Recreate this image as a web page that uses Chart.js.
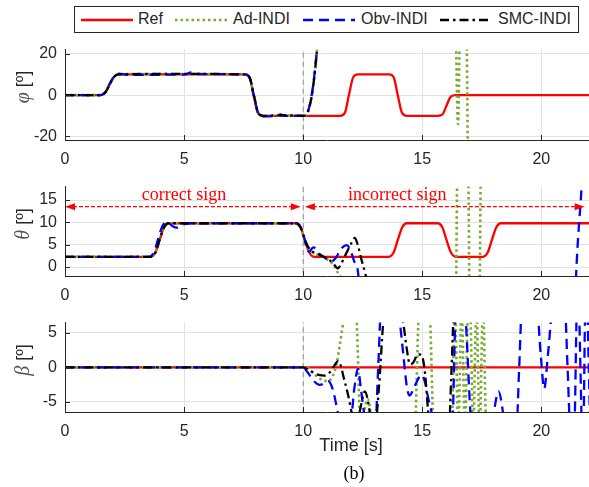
<!DOCTYPE html>
<html lang="en">
<head>
<meta charset="UTF-8">
<title>Attitude tracking (b)</title>
<script src="https://cdn.jsdelivr.net/npm/chart.js"></script>
<style>
  body { margin: 0; background: #fff; }
  #fig { position: relative; width: 589px; height: 487px; overflow: hidden;
         font-family: "Liberation Sans", Arial, sans-serif; color: #262626; }
  canvas { position: absolute; left: 0; }
  .legend { position: absolute; left: 74px; top: 6px; width: 503px; height: 25px;
            border: 1px solid #262626; background: #fff; z-index: 5; }
  .legend svg, .legend span { position: absolute; }
  .legend svg { top: 8px; }
  .legend span { top: 2px; font-size: 16px; line-height: 20px; white-space: nowrap; }
  .ylab { position: absolute; transform: translate(-50%, -50%) rotate(-90deg);
          white-space: nowrap; font-size: 18px; }
  .ylab i { font-family: "Liberation Serif", serif; font-size: 20px; color: #555; }
  .xlab { position: absolute; left: 351px; top: 445px; transform: translate(-50%, -50%);
          font-size: 18px; white-space: nowrap; }
  .cap { position: absolute; left: 354px; top: 473px; transform: translate(-50%, -50%);
         font-family: "Liberation Serif", serif; font-size: 18px; color: #000; }
</style>
</head>
<body>
<div id="fig">
  <canvas id="phiChart" width="589" height="142" style="top:32px"></canvas>
  <canvas id="thetaChart" width="589" height="141" style="top:169px"></canvas>
  <canvas id="betaChart" width="589" height="141" style="top:305px"></canvas>

  <div class="legend">
    <svg width="52" height="10" style="left:6px"><line x1="0" y1="5" x2="52" y2="5" stroke="#ff0000" stroke-width="2.3"/></svg>
    <span style="left:63px">Ref</span>
    <svg width="52" height="10" style="left:100px"><line x1="0" y1="5" x2="52" y2="5" stroke="#77ac30" stroke-width="2.6" stroke-dasharray="2.5 3"/></svg>
    <span style="left:158px">Ad-INDI</span>
    <svg width="52" height="10" style="left:228px"><line x1="0" y1="5" x2="52" y2="5" stroke="#0000ff" stroke-width="2.3" stroke-dasharray="10 6"/></svg>
    <span style="left:286px">Obv-INDI</span>
    <svg width="52" height="10" style="left:365px"><line x1="0" y1="5" x2="52" y2="5" stroke="#000" stroke-width="2.3" stroke-dasharray="9 4 2.5 4"/></svg>
    <span style="left:423px">SMC-INDI</span>
  </div>

  <div class="ylab" style="left:22px; top:87px"><i>φ</i> [º]</div>
  <div class="ylab" style="left:22px; top:224px"><i>θ</i> [º]</div>
  <div class="ylab" style="left:22px; top:360px"><i>β</i> [º]</div>
  <div class="xlab">Time [s]</div>
  <div class="cap">(b)</div>
</div>

<script>
  // [time s, angle deg]
  const phiRef = [[0,0],[1.5,0],[1.7,1.4],[1.87,5],[2.05,8.6],[2.25,10],[7.55,10],[7.75,8.6],[7.92,0],[8.1,-8.6],[8.3,-10],
    [11.55,-10],[11.75,-8.6],[11.92,0],[12.1,8.6],[12.3,10],[13.6,10],[13.8,8.6],[13.97,0],[14.15,-8.6],[14.35,-10],
    [15.65,-10],[15.85,-9.3],[16.02,-5],[16.2,-0.7],[16.4,0],[22,0]];
  const phiAd = [[0,0],[1.5,0],[1.7,1.5],[1.88,5.2],[2.06,8.8],[2.26,10.1],[5.2,10.2],[7.55,10],[7.75,8.5],[7.93,-0.2],[8.12,-8.7],[8.32,-10],
    [10.05,-10],[10.2,-8],[10.35,-1],[10.48,10],[10.58,22],[10.7,40],[10.9,60],[16.35,60],[16.5,-14],[16.62,60],[16.82,60],[16.96,-60],[22,-60]];
  const phiObv = [[0,0],[1.5,0],[1.7,1.6],[1.88,5.6],[2.06,9.1],[2.28,10.4],[2.6,9.8],[5.05,10],[5.3,11],[5.55,10.2],[7.55,10],[7.75,8.3],[7.93,-0.4],
    [8.12,-8.9],[8.32,-10.3],[8.9,-9.9],[9.05,-9.3],[9.2,-10],[10.05,-10],[10.2,-7.8],[10.35,-0.6],[10.48,10.5],[10.58,22.5],[10.7,40],[10.9,60],[22,60]];
  const phiSmc = [[0,0],[1.5,0],[1.7,1.4],[1.88,5.3],[2.06,8.9],[2.26,10],[5.2,10.3],[7.55,10],[7.75,8.6],[7.93,0],[8.12,-8.8],[8.32,-10.1],[9.1,-9.7],
    [10.05,-10],[10.2,-8],[10.35,-1],[10.48,10],[10.58,22],[10.7,40],[10.9,60],[22,60]];

  const thetaRef = [[0,2.3],[3.6,2.3],[3.8,3.3],[3.97,6],[4.15,8.8],[4.35,9.8],[9.7,9.8],[9.9,8.8],[10.07,6],[10.25,3.3],[10.45,2.3],
    [13.6,2.3],[13.8,3.3],[13.97,6],[14.15,8.8],[14.35,9.8],[15.65,9.8],[15.85,8.8],[16.02,6],[16.2,3.3],[16.4,2.3],
    [17.55,2.3],[17.75,3.3],[17.92,6],[18.1,8.8],[18.3,9.8],[22,9.8]];
  const thetaAd = [[0,2.3],[3.6,2.3],[3.8,3.3],[3.97,6.1],[4.15,8.9],[4.35,9.8],[9.7,9.8],[9.9,8.8],[10.05,6.3],[10.2,4.4],[10.4,3.3],[10.7,2.6],
    [10.95,1.9],[11.15,1.2],[11.3,0.3],[11.47,-1.4],[11.6,-4],[11.75,-30],[16.36,-30],[16.5,30],[16.9,30],[17.04,-30],[17.35,-30],[17.49,30],[22,30]];
  const thetaObv = [[0,2.3],[3.55,2.3],[3.75,3.5],[3.92,6.5],[4.1,9.3],[4.3,10.1],[4.5,9.2],[4.72,8.8],[4.95,9.5],[5.3,9.8],[9.7,9.8],[9.9,8.8],
    [10.05,6.4],[10.15,4.2],[10.25,3.4],[10.42,4.4],[10.55,4.0],[10.68,3.0],[10.85,2.3],[11.05,1.6],[11.2,1.3],[11.35,1.9],[11.5,3.2],[11.65,4.4],
    [11.82,4.9],[11.98,3.9],[12.15,1.2],[12.32,-2],[12.5,-30],[21.3,-30],[21.45,-3],[21.7,19],[21.8,30],[22,30]];
  const thetaSmc = [[0,2.3],[3.6,2.3],[3.8,3.3],[3.97,6],[4.15,8.8],[4.35,9.8],[9.7,9.8],[9.9,8.8],[10.05,6.5],[10.2,4.6],[10.4,3.4],[10.7,2.7],
    [11.0,1.9],[11.25,0.9],[11.45,-0.3],[11.6,0.8],[11.82,3.2],[12.03,5.4],[12.17,6.5],[12.3,4.8],[12.45,1.6],[12.6,-1.4],[12.75,-6],[12.9,-30],[22,-30]];

  const betaRef = [[0,0],[22,0]];
  const betaAd = [[0,0],[10.15,0],[10.35,-0.6],[10.6,-1.4],[10.85,-1.9],[11.05,-2.0],[11.25,-1.2],[11.4,0.5],[11.55,3.5],[11.68,6.5],[11.8,9],
    [12.2,9],[12.42,-9],[12.7,-4.6],[12.98,-9],[14.68,-9],[14.88,9],[15.29,9],[15.49,-9],[16.23,-9],[16.37,9],[16.51,-9],[16.65,9],[16.79,-9],
    [16.93,9],[17.0,9],[17.14,-9],[17.27,9],[17.41,-9],[17.55,9],[17.69,-9],[22,-9]];
  const betaObv = [[0,0],[10,0],[10.2,-0.8],[10.45,-2.0],[10.7,-2.55],[10.9,-2.3],[11.05,-2.0],[11.18,-2.6],[11.3,-4],[11.45,-6.5],[11.6,-9],
    [11.95,-9],[12.15,-3],[12.3,-0.2],[12.42,-3],[12.55,-6.5],[12.7,-9],[13.02,-9],[13.15,0],[13.28,9],[13.95,9],[14.06,6.5],[14.2,2],[14.34,-2.5],
    [14.46,-4.1],[14.6,-3.4],[14.75,-2.2],[14.97,-1.1],[15.1,-2],[15.25,-4.5],[15.39,-6.5],[15.5,-9],[16.25,-9],[16.42,9],[16.75,9],[17.1,-9],
    [17.85,-9],[18.2,-3.5],[18.55,-9],[18.95,-9],[19.07,0],[19.19,9],[19.8,9],[19.97,2],[20.12,-3.1],[20.28,2],[20.5,9],[20.98,9],[21.1,0],
    [21.22,-9],[21.38,-9],[21.5,9],[21.57,9],[21.64,0],[21.71,-9],[21.76,-9],[21.85,9],[21.92,9],[21.99,0],[22.05,-9]];
  const betaSmc = [[0,0],[10,0],[10.2,-0.3],[10.45,-0.8],[10.7,-1.15],[10.9,-1.2],[11.1,-0.8],[11.3,0.2],[11.47,0.9],[11.6,0],[11.68,-1.2],
    [11.89,-4.1],[12.03,-6.5],[12.2,-9],[12.4,-6],[12.59,-3.5],[12.75,-5.5],[12.9,-9],[13.05,-8],[13.2,-2],[13.36,6.5],[13.5,10],[14.0,10],
    [14.2,6.5],[14.34,2.9],[14.48,0.45],[14.6,0.6],[14.83,1.9],[15.0,1.5],[15.12,-1],[15.25,-6.5],[15.4,-10],[16.1,-10],[16.23,0],[16.36,10],[22,10]];

  const timeTicks = [0, 5, 10, 15, 20];
  const phiTicks = [-20, 0, 20];
  const thetaTicks = [0, 5, 10, 15];
  const betaTicks = [-5, 0, 5];
  const splitTime = 10;                       // gray dashed marker
  const arrowY = 13.5;                        // sign arrows in theta panel
  const arrowSpans = [[0, 9.9], [10.07, 21.82]];
  const signLabels = [['correct sign', 5, 16.1], ['incorrect sign', 13.95, 16.1]];

  const tickFont = { family: 'Liberation Sans', size: 16 };
  const toXY = arr => arr.map(p => ({ x: p[0], y: p[1] }));
  const fixTicks = vals => s => { s.ticks = vals.map(v => ({ value: v })); };

  function seriesSets(ref, ad, obv, smc) {
    return [
      { label: 'Ref', data: toXY(ref), borderColor: '#ff0000', borderWidth: 2.3, order: 4 },
      { label: 'Ad-INDI', data: toXY(ad), borderColor: '#77ac30', borderWidth: 2.6, borderDash: [2.5, 3], order: 3 },
      { label: 'Obv-INDI', data: toXY(obv), borderColor: '#0000ff', borderWidth: 2.3, borderDash: [10, 6], order: 2 },
      { label: 'SMC-INDI', data: toXY(smc), borderColor: '#000000', borderWidth: 2.3, borderDash: [9, 4, 2.5, 4], order: 1 },
      { label: 'split', data: [{ x: splitTime, y: -1000 }, { x: splitTime, y: 1000 }], borderColor: '#8a8a8a',
        borderWidth: 1, borderDash: [5, 4], tension: 0, cubicInterpolationMode: 'default', order: 5 }
    ];
  }

  // MATLAB-style ticks pointing into the axes
  const innerTicks = {
    id: 'innerTicks',
    afterDraw(chart) {
      const { ctx, chartArea: a, scales: { x, y } } = chart;
      ctx.save();
      ctx.strokeStyle = '#262626';
      ctx.lineWidth = 1;
      ctx.beginPath();
      x.ticks.forEach(t => {
        const px = Math.round(x.getPixelForValue(t.value)) + 0.5;
        ctx.moveTo(px, a.bottom); ctx.lineTo(px, a.bottom - 5);
      });
      y.ticks.forEach(t => {
        const py = Math.round(y.getPixelForValue(t.value)) + 0.5;
        ctx.moveTo(a.left, py); ctx.lineTo(a.left + 5, py);
      });
      ctx.stroke();
      ctx.restore();
    }
  };

  const signNotes = {
    id: 'signNotes',
    afterDatasetsDraw(chart) {
      const { ctx, scales: { x, y } } = chart;
      const py = y.getPixelForValue(arrowY);
      ctx.save();
      ctx.strokeStyle = '#ff0000';
      ctx.fillStyle = '#ff0000';
      ctx.lineWidth = 1.3;
      const head = (tip, dir) => {
        ctx.beginPath();
        ctx.moveTo(tip, py);
        ctx.lineTo(tip - dir * 10, py - 3.5);
        ctx.lineTo(tip - dir * 10, py + 3.5);
        ctx.closePath();
        ctx.fill();
      };
      arrowSpans.forEach(([a, b]) => {
        const x0 = x.getPixelForValue(a), x1 = x.getPixelForValue(b);
        ctx.setLineDash([4, 2]);
        ctx.beginPath(); ctx.moveTo(x0 + 8, py); ctx.lineTo(x1 - 8, py); ctx.stroke();
        ctx.setLineDash([]);
        head(x0, -1); head(x1, 1);
      });
      ctx.font = '18px "Liberation Serif", serif';
      ctx.textAlign = 'center';
      ctx.textBaseline = 'middle';
      signLabels.forEach(([txt, tx, ty]) => ctx.fillText(txt, x.getPixelForValue(tx), y.getPixelForValue(ty)));
      ctx.restore();
    }
  };

  function makeChart(id, datasets, yMin, yMax, yTicks, extra) {
    new Chart(document.getElementById(id).getContext('2d'), {
      type: 'line',
      data: { datasets: datasets },
      options: {
        responsive: false,
        animation: false,
        devicePixelRatio: 1,
        layout: { padding: { top: 3, left: 0, right: 0, bottom: 0 } },
        plugins: { legend: { display: false }, tooltip: { enabled: false } },
        elements: {
          point: { radius: 0 },
          line: { capBezierPoints: false, cubicInterpolationMode: 'monotone', borderCapStyle: 'butt', fill: false }
        },
        scales: {
          x: {
            type: 'linear', min: 0, max: 22,
            afterBuildTicks: fixTicks(timeTicks),
            ticks: { autoSkip: false, maxRotation: 0, padding: 10, color: '#262626', font: tickFont },
            grid: { color: '#e2e2e2', drawTicks: false },
            border: { color: '#262626' },
            afterFit: s => { s.height = 34; }
          },
          y: {
            type: 'linear', min: yMin, max: yMax,
            afterBuildTicks: fixTicks(yTicks),
            ticks: { autoSkip: false, padding: 8, color: '#262626', font: tickFont },
            grid: { color: '#e2e2e2', drawTicks: false },
            border: { color: '#262626' },
            afterFit: s => { s.width = 65; }
          }
        }
      },
      plugins: [innerTicks].concat(extra || [])
    });
  }

  makeChart('phiChart', seriesSets(phiRef, phiAd, phiObv, phiSmc), -21.7, 22, phiTicks);
  makeChart('thetaChart', seriesSets(thetaRef, thetaAd, thetaObv, thetaSmc), -2, 18, thetaTicks, [signNotes]);
  makeChart('betaChart', seriesSets(betaRef, betaAd, betaObv, betaSmc), -6.5, 6.5, betaTicks);
</script>
</body>
</html>
